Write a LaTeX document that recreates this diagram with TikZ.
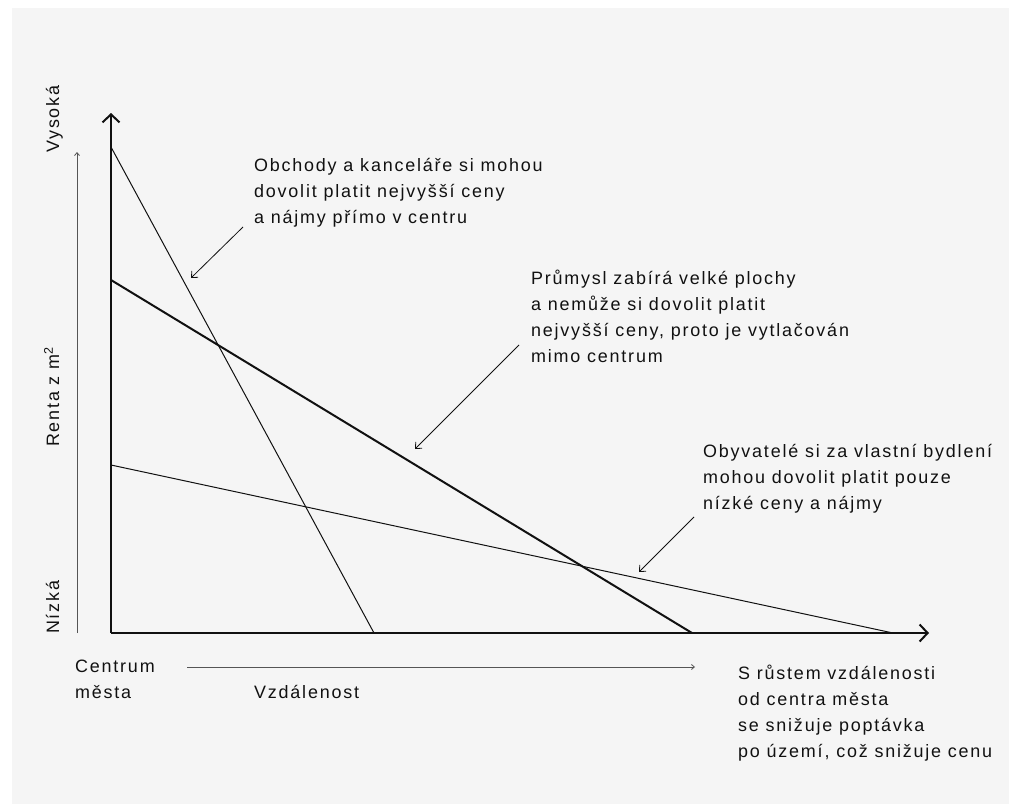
\documentclass[tikz,border=0pt]{standalone}
\usepackage{fontspec}
\setmainfont{Liberation Sans}[LetterSpace=10]
\usetikzlibrary{arrows.meta}

\definecolor{paper}{HTML}{F5F5F5}
\definecolor{ink}{HTML}{111111}
\definecolor{guide}{HTML}{555555}

\tikzset{
  txt/.style={inner sep=0pt, text=ink, font=\fontsize{18}{25.8}\selectfont},
  % multi-line notes are anchored at the baseline of their last line
  note/.style={txt, align=left, anchor=base west},
  vlabel/.style={txt, rotate=90, anchor=base west},
  axis/.style={draw=ink, line width=2bp, -{Straight Barb[length=8bp, width=17bp, line width=2bp]}},
  bidline/.style={draw=ink, line width=1bp},
  bidthick/.style={draw=ink, line width=2bp},
  guidearrow/.style={draw=guide, line width=1bp, -{Straight Barb[length=3bp, width=5bp, line width=0.8bp]}},
  pointer/.style={draw=ink, line width=0.8bp, -{Straight Barb[length=5bp, width=9bp, line width=0.8bp]}}
}

\begin{document}
\begin{tikzpicture}[x=1bp, y=-1bp]
\useasboundingbox (0,0) rectangle (1009,804);
\fill[white] (0,0) rectangle (1009,804);
\fill[paper] (12,8) rectangle (1009,804);

% axes
\coordinate (O) at (111,633);
\coordinate (ytip) at (111,113);
\coordinate (xtip) at (929,633);

% bid-rent lines
\coordinate (shopTop) at (111,147);
\coordinate (shopEnd) at (374,633);
\coordinate (indTop) at (111,280);
\coordinate (indEnd) at (692,633);
\coordinate (resTop) at (111,465);
\coordinate (resEnd) at (893,633);

\draw[bidline] (shopTop) -- (shopEnd);
\draw[bidthick] (indTop) -- (indEnd);
\draw[bidline] (resTop) -- (resEnd);

\draw[axis] (O) -- (ytip);
\draw[axis] (O) -- (xtip);

% guide arrows beside the axes
\coordinate (gyStart) at (77,633);
\coordinate (gyEnd) at (77,152);
\coordinate (gxStart) at (187,667);
\coordinate (gxEnd) at (695,667);
\draw[guidearrow] (gyStart) -- (gyEnd);
\draw[guidearrow] (gxStart) -- (gxEnd);

% axis labels
\node[vlabel] (high) at (59,153) {Vysoká};
\node[vlabel] (low) at (59,634) {Nízká};
\node[vlabel] (rent) at (59,447) {Renta z m\textsuperscript{2}};
\node[note] (centre) at (75,698) {Centrum\\města};
\node[note] (dist) at (254,698) {Vzdálenost};
\node[note] (demand) at (738,757) {S růstem vzdálenosti\\od centra města\\se snižuje poptávka\\po území, což snižuje cenu};

% annotations
\node[note] (shops) at (254,223) {Obchody a kanceláře si mohou\\dovolit platit nejvyšší ceny\\a nájmy přímo v centru};
\node[note] (industry) at (531,362) {Průmysl zabírá velké plochy\\a nemůže si dovolit platit\\nejvyšší ceny, proto je vytlačován\\mimo centrum};
\node[note] (housing) at (703,509) {Obyvatelé si za vlastní bydlení\\mohou dovolit platit pouze\\nízké ceny a nájmy};

\coordinate (p1a) at (243,227);
\coordinate (p1b) at (191,278);
\coordinate (p2a) at (519,345);
\coordinate (p2b) at (415,449);
\coordinate (p3a) at (694,517);
\coordinate (p3b) at (639,572);
\draw[pointer] (p1a) -- (p1b);
\draw[pointer] (p2a) -- (p2b);
\draw[pointer] (p3a) -- (p3b);
\end{tikzpicture}
\end{document}
